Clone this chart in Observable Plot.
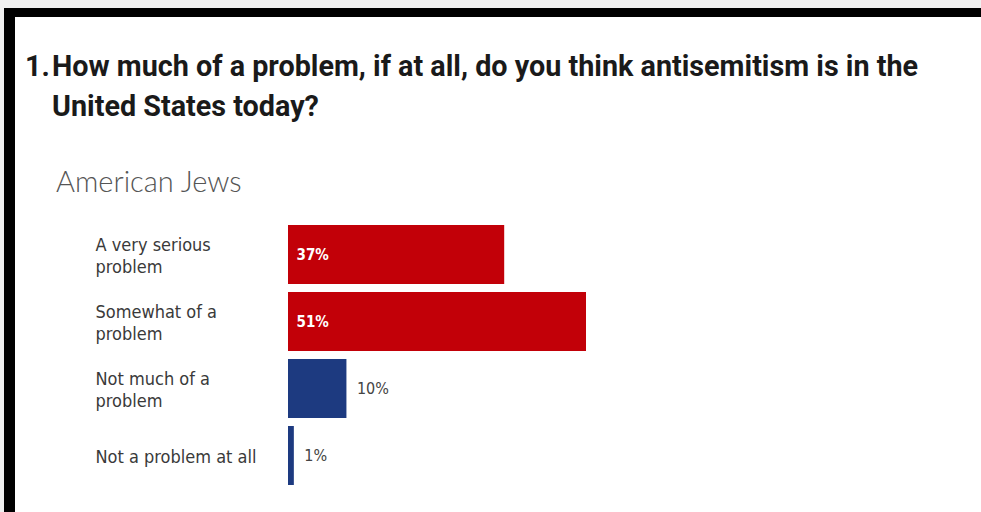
<!DOCTYPE html>
<html>
<head>
<meta charset="utf-8">
<script src="https://cdn.jsdelivr.net/npm/d3@7"></script>
<script src="https://cdn.jsdelivr.net/npm/@observablehq/plot@0.6"></script>
<style>
  html, body { margin: 0; padding: 0; background: #fff; }
  body { width: 981px; height: 512px; position: relative; overflow: hidden; }
  .greytop { position: absolute; left: 0; top: 0; width: 981px; height: 8px; background: #f0f0f0; }
  .greyleft { position: absolute; left: 0; top: 0; width: 4px; height: 512px; background: #f0f0f0; }
  .blacktop { position: absolute; left: 4px; top: 8px; width: 977px; height: 9px; background: #000; }
  .blackleft { position: absolute; left: 4px; top: 8px; width: 11px; height: 504px; background: #000; }
  .tline { position: absolute; white-space: nowrap; transform-origin: 0 0;
    font-family: Roboto, "DejaVu Sans Condensed", sans-serif;
    font-weight: bold; font-size: 30px; line-height: 40px; color: #1a1a1a; }
  .subtitle { position: absolute; left: 56px; top: 163px; font-family: Lato, "Open Sans", sans-serif;
    font-weight: 300; font-size: 29px; color: #555; }
  #chart { position: absolute; left: 0; top: 200px; }
</style>
</head>
<body>
<div class="greytop"></div><div class="greyleft"></div>
<div class="blacktop"></div><div class="blackleft"></div>
<div class="tline" id="tnum" style="left:25px; top:46px;">1.</div>
<div class="tline" id="t1" style="left:52px; top:46px;">How much of a problem, if at all, do you think antisemitism is in the</div>
<div class="tline" id="t2" style="left:52px; top:86px;">United States today?</div>
<div class="subtitle">American Jews</div>
<div id="chart"></div>
<script>
const categories = ["A very serious\nproblem", "Somewhat of a\nproblem", "Not much of a\nproblem", "Not a problem at all"];
const values = [37, 51, 10, 1];
const valueLabels = ["37%", "51%", "10%", "1%"];
const barColors = ["#c20008", "#c20008", "#1d3a80", "#1d3a80"];
const insideBar = [true, true, false, false];

// condense the title font to the reference's narrow width
const t1 = document.getElementById("t1");
const s = 866 / t1.getBoundingClientRect().width;
for (const id of ["tnum", "t1", "t2"]) document.getElementById(id).style.transform = `scaleX(${s})`;

const data = categories.map((c, i) => ({category: c, value: values[i], label: valueLabels[i], inside: insideBar[i]}));
const font = '"DejaVu Sans Condensed", sans-serif';

const chart = Plot.plot({
  width: 981,
  height: 300,
  marginLeft: 288,
  marginRight: 395,
  marginTop: 16,
  marginBottom: 5,
  x: {domain: [0, 51], axis: null},
  y: {domain: categories, padding: 0.114, axis: null},
  color: {domain: categories, range: barColors},
  style: {fontFamily: font, background: "transparent"},
  marks: [
    Plot.barX(data, {x: "value", y: "category", fill: "category"}),
    Plot.text(data, {y: "category", text: "category", frameAnchor: "left", dx: -193, textAnchor: "start",
      fontSize: 18, fill: "#3a3a3a", lineHeight: 1.22, fontFamily: font}),
    Plot.text(data.filter(d => d.inside), {x: 0, y: "category", text: "label", dx: 8, textAnchor: "start",
      fill: "#fff", fontWeight: "bold", fontSize: 15, fontFamily: font}),
    Plot.text(data.filter(d => !d.inside), {x: "value", y: "category", text: "label", dx: 10, textAnchor: "start",
      fill: "#444", fontSize: 16, fontFamily: font})
  ]
});
document.getElementById("chart").appendChild(chart);
</script>
</body>
</html>
